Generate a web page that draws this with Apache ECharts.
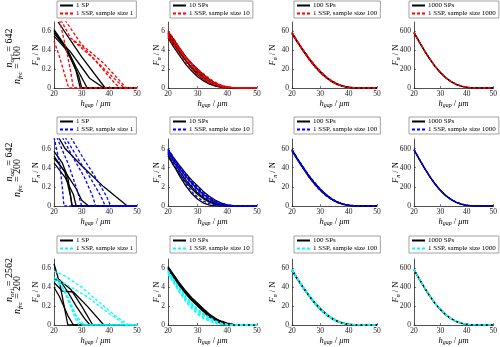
<!DOCTYPE html>
<html><head><meta charset="utf-8">
<script src="https://cdn.jsdelivr.net/npm/echarts@6/dist/echarts.min.js"></script>
<style>html,body{margin:0;padding:0;background:#fff}#c{width:500px;height:347px}</style>
</head><body><div id="c"></div>
<script>
// ---------- DATA ----------
const xs = [20,22,24,26,28,30,32,34,36,38,40,42,44,46,48,50];
const spNames = ['1 SP','10 SPs','100 SPs','1000 SPs'];
const ssNames = ['1 SSP, sample size 1','1 SSP, sample size 10','1 SSP, sample size 100','1 SSP, sample size 1000'];
const rowOri = ['642','642','2562'];
const rowFrc = ['100','200','200'];
const ssColors = ['#ff0000','#0000ff','#00ffff'];
const yMax = [0.7,7,70,700];
const yStep = [0.2,2,20,200];
const xTicks = [20,30,40,50];

// column 1 (single particle) curves, [h_gap, F_n] points
const r1c1SP = [
  [[20,0.62],[24,0.45],[28,0.18],[29.5,0],[50,0]],
  [[20,0.58],[25,0.4],[28,0.22],[32,0],[50,0]],
  [[20,0.6],[23,0.48],[26,0.38],[30,0.22],[33,0.1],[38,0],[50,0]],
  [[21.5,0.7],[30,0.33],[38.5,0],[50,0]],
  [[20,0.55],[24,0.42],[27,0.26],[29,0.12],[30,0],[50,0]]
];
const r1c1SS = [
  [[20,0.5],[22,0.33],[24,0.13],[25.3,0],[50,0]],
  [[22,0.72],[24.5,0.4],[26,0.18],[27,0],[50,0]],
  [[22.5,0.72],[26,0.53],[31,0.42],[37,0.22],[42,0.05],[44,0],[50,0]],
  [[24,0.72],[30,0.46],[38,0.26],[44,0.07],[46,0],[50,0]],
  [[27,0.5],[34,0.32],[40,0.15],[44,0.04],[45.5,0],[50,0]]
];
const r2c1SP = [
  [[21,0.75],[24,0.6],[28,0.48],[30,0.42],[38,0.2],[46.5,0],[50,0]],
  [[20,0.57],[23,0.45],[25,0.3],[26,0.1],[26.5,0],[50,0]],
  [[20,0.52],[24,0.35],[26,0.1],[26.6,0],[50,0]],
  [[20,0.5],[24,0.36],[28,0.18],[30,0.06],[32.5,0],[50,0]],
  [[20,0.45],[24,0.3],[27,0.12],[28,0],[50,0]]
];
const r2c1SS = [
  [[20,0.72],[22,0.45],[23,0.2],[23.6,0],[50,0]],
  [[21,0.72],[25,0.45],[28,0.2],[30,0],[50,0]],
  [[23,0.72],[27,0.5],[31,0.3],[34,0.1],[35,0],[50,0]],
  [[24,0.72],[29,0.48],[33,0.3],[37,0.1],[38.5,0],[50,0]],
  [[26,0.72],[31,0.48],[35,0.3],[39,0.1],[40.5,0],[50,0]]
];
const r3c1SP = [
  [[20,0.65],[22,0.45],[24,0.15],[25,0],[50,0]],
  [[20,0.48],[22,0.48],[25,0.35],[28,0.2],[31,0.07],[33,0],[50,0]],
  [[21,0.5],[26,0.38],[30,0.2],[34,0],[50,0]],
  [[20,0.45],[23,0.36],[27,0.35],[32,0.2],[38,0],[50,0]],
  [[20,0.4],[22,0.3],[25,0.1],[27,0],[50,0]]
];
const r3c1SS = [
  [[20,0.57],[24,0.52],[30,0.4],[36,0.25],[42,0.1],[47,0],[50,0]],
  [[20,0.5],[25,0.42],[32,0.3],[40,0.12],[46,0],[50,0]],
  [[20,0.48],[23,0.4],[26,0.2],[28,0.05],[29,0],[50,0]],
  [[21,0.5],[24,0.35],[27,0.15],[29,0.03],[30.5,0],[50,0]],
  [[22,0.45],[25,0.3],[28,0.1],[31,0],[50,0]]
];
// column 2 (10 SPs) curves, values at xs
const r1c2SP = [
  [6.0,5.1,4.2,3.3,2.5,1.8,1.2,0.7,0.35,0.15,0.05,0,0,0,0,0],
  [5.8,4.8,3.8,2.9,2.1,1.4,0.9,0.5,0.25,0.1,0.03,0,0,0,0,0],
  [5.5,4.6,3.7,2.9,2.2,1.6,1.1,0.7,0.4,0.2,0.08,0.02,0,0,0,0],
  [5.3,4.3,3.4,2.5,1.8,1.2,0.75,0.4,0.2,0.08,0.02,0,0,0,0,0],
  [5.7,4.9,4.1,3.3,2.6,2.0,1.4,0.9,0.5,0.22,0.08,0.02,0,0,0,0]
];
const r1c2SS = [
  [6.1,5.2,4.2,3.3,2.6,2.0,1.5,1.0,0.6,0.3,0.12,0.04,0.01,0,0,0],
  [5.9,4.9,4.0,3.1,2.3,1.6,1.05,0.65,0.35,0.15,0.05,0.01,0,0,0,0],
  [5.6,4.7,3.9,3.2,2.5,1.9,1.3,0.8,0.45,0.2,0.07,0.02,0,0,0,0],
  [5.4,4.5,3.6,2.7,2.0,1.4,0.9,0.55,0.3,0.12,0.04,0.01,0,0,0,0],
  [5.8,5.0,4.1,3.2,2.4,1.7,1.2,0.8,0.5,0.25,0.1,0.03,0,0,0,0]
];
const r2c2SP = [
  [5.9,5.0,4.2,3.4,2.7,2.1,1.5,1.0,0.6,0.3,0.12,0.03,0,0,0,0],
  [5.6,4.6,3.6,2.7,2.0,1.35,0.85,0.5,0.25,0.1,0.03,0,0,0,0,0],
  [5.4,4.2,3.1,2.1,1.3,0.7,0.3,0.1,0.02,0,0,0,0,0,0,0],
  [5.7,4.8,3.9,3.1,2.4,1.75,1.2,0.75,0.4,0.18,0.06,0.01,0,0,0,0],
  [5.2,4.2,3.3,2.5,1.8,1.2,0.75,0.4,0.18,0.07,0.02,0,0,0,0,0]
];
const r2c2SS = [
  [6.0,5.0,4.1,3.3,2.6,2.0,1.4,0.95,0.55,0.28,0.1,0.03,0,0,0,0],
  [5.9,4.9,4.0,3.2,2.5,1.9,1.35,0.9,0.5,0.25,0.09,0.02,0,0,0,0],
  [5.5,4.4,3.3,2.3,1.5,0.9,0.5,0.25,0.1,0.03,0,0,0,0,0,0],
  [5.8,4.8,3.9,3.0,2.3,1.65,1.1,0.7,0.38,0.17,0.06,0.01,0,0,0,0],
  [5.6,4.6,3.7,2.8,2.1,1.5,1.0,0.6,0.3,0.12,0.04,0,0,0,0,0]
];
const r3c2SP = [
  [6.2,5.3,4.4,3.6,2.9,2.3,1.7,1.15,0.7,0.35,0.12,0.03,0,0,0,0],
  [6.0,5.1,4.2,3.4,2.7,2.1,1.55,1.05,0.65,0.32,0.12,0.03,0,0,0,0],
  [6.1,5.2,4.3,3.5,2.8,2.2,1.6,0.9,0.45,0.15,0.04,0,0,0,0,0],
  [5.9,5.0,4.1,3.3,2.6,2.0,1.4,0.8,0.6,0.4,0.2,0.07,0.01,0,0,0],
  [6.0,5.1,4.3,3.5,2.75,2.05,1.45,0.95,0.55,0.25,0.08,0.02,0,0,0,0]
];
const r3c2SS = [
  [5.8,4.8,3.9,3.0,2.3,1.7,1.2,0.8,0.45,0.2,0.07,0.02,0,0,0,0],
  [5.6,4.6,3.7,2.8,2.1,1.5,1.0,0.6,0.3,0.12,0.04,0,0,0,0,0],
  [5.5,4.5,3.5,2.6,1.9,1.3,0.85,0.5,0.25,0.1,0.03,0,0,0,0,0],
  [5.7,4.7,3.8,2.9,2.2,1.6,1.1,0.7,0.4,0.18,0.06,0.01,0,0,0,0],
  [5.4,4.4,3.4,2.5,1.75,1.15,0.7,0.4,0.2,0.08,0.02,0,0,0,0,0]
];
// column 3 (100 SPs)
const c3SP = [
  [58,48.5,39.5,31,23.5,17,11.5,7.2,4.0,1.9,0.7,0.2,0.05,0,0,0],
  [59,49,40,31.5,24,17.5,12,7.5,4.2,2.0,0.8,0.25,0.05,0,0,0],
  [57.5,48,39,30.5,23,16.5,11,6.8,3.7,1.7,0.6,0.15,0.03,0,0,0]
];
const c3SS = [
  [59,49.5,40.5,32,24.5,17.8,12.2,7.8,4.4,2.1,0.85,0.3,0.08,0,0,0],
  [58,48,39,30,22.5,16,10.8,6.6,3.6,1.7,0.65,0.2,0.04,0,0,0],
  [58.5,49,39.8,31.2,23.6,17.2,11.7,7.3,4.1,1.9,0.75,0.22,0.05,0,0,0]
];
// column 4 (1000 SPs)
const c4SP = [
  [590,490,396,308,230,164,110,69,39,19,7.5,2.3,0.6,0.1,0,0],
  [585,486,392,304,227,161,108,67,37,18,7,2,0.5,0.1,0,0]
];
const c4SS = [
  [592,492,398,310,232,166,112,70,40,20,8,2.5,0.6,0.1,0,0],
  [587,488,394,306,228,162,109,68,38,18.5,7.2,2.2,0.5,0.1,0,0]
];

const panelSP = [[r1c1SP,r1c2SP,c3SP,c4SP],[r2c1SP,r2c2SP,c3SP,c4SP],[r3c1SP,r3c2SP,c3SP,c4SP]];
const panelSS = [[r1c1SS,r1c2SS,c3SS,c4SS],[r2c1SS,r2c2SS,c3SS,c4SS],[r3c1SS,r3c2SS,c3SS,c4SS]];

// ---------- LAYOUT ----------
const FF = 'Liberation Serif';
const colLeft = [54,168,292,414];
const colWidth = [83,89,85,81];
const rowTop = [22,139,259];
const rowHeight = [66,67,66];
const legLeft = [57,170,294,409];
const legTop = [1,117,236];
const yNameGap = [14,7,15,14];
const rowLabelX = [9,17.5];
const rowLabelY = [[48,65],[162,178],[280,295]];

function toPts(curve){
  if (Array.isArray(curve[0])) return curve;
  return curve.map((v,i)=>[xs[i],v]);
}
const subRich = (F)=>({
  i:{fontFamily:FF,fontStyle:'italic',fontSize:F,lineHeight:F,verticalAlign:'top',color:'#000'},
  r:{fontFamily:FF,fontSize:F,lineHeight:F,verticalAlign:'top',color:'#000'},
  s:{fontFamily:FF,fontStyle:'italic',fontSize:F*0.7,lineHeight:F*0.7,verticalAlign:'top',padding:[F*0.45,0,0,0],color:'#000'}
});

const grid=[], xAxis=[], yAxis=[], series=[], legend=[], graphic=[];
for (let r=0;r<3;r++){
  for (let c=0;c<4;c++){
    const g = r*4+c;
    grid.push({left:colLeft[c],top:rowTop[r],width:colWidth[c],height:rowHeight[r],containLabel:false});
    xAxis.push({type:'value',gridIndex:g,min:20,max:50,interval:10,
      axisLine:{lineStyle:{color:'#262626',width:0.8}},
      axisTick:{inside:true,length:2,lineStyle:{color:'#262626',width:0.6}},
      splitLine:{show:false},
      axisLabel:{fontFamily:FF,fontSize:7.5,color:'#222',margin:2},
      name:'{i|h}{s|gap}{r| / }{i|μm}',nameLocation:'middle',nameGap:11,nameMoveOverlap:false,
      nameTextStyle:{rich:subRich(8.5)}});
    yAxis.push({type:'value',gridIndex:g,min:0,max:yMax[c],interval:yStep[c],
      axisLine:{show:true,lineStyle:{color:'#262626',width:0.8}},
      axisTick:{show:true,inside:true,length:2,lineStyle:{color:'#262626',width:0.6}},
      splitLine:{show:false},
      axisLabel:{fontFamily:FF,fontSize:7.5,color:'#222',margin:3,showMaxLabel:false},
      name:'{i|F}{s|n}{r| / N}',nameLocation:'middle',nameGap:yNameGap[c],nameMoveOverlap:false,
      nameTextStyle:{rich:subRich(8.5)}});
    const zw='\u200b'.repeat(r);
    const nSP = spNames[c]+zw, nSS = ssNames[c]+zw;
    panelSP[r][c].forEach(cv=>series.push({type:'line',name:nSP,xAxisIndex:g,yAxisIndex:g,
      data:toPts(cv),symbol:'none',silent:true,clip:true,
      lineStyle:{color:'#000',width:1.3},itemStyle:{color:'#000'}}));
    panelSS[r][c].forEach(cv=>series.push({type:'line',name:nSS,xAxisIndex:g,yAxisIndex:g,
      data:toPts(cv),symbol:'none',silent:true,clip:true,
      lineStyle:{color:ssColors[r],width:1.3,type:[3,2]},itemStyle:{color:ssColors[r]}}));
    legend.push({data:[nSP,nSS],orient:'vertical',left:legLeft[c],top:legTop[r],
      itemWidth:13,itemHeight:7,itemGap:1,padding:[1,3,1,2],
      itemStyle:{opacity:0,borderWidth:0},
      borderColor:'#8c8c8c',borderWidth:0.8,backgroundColor:'#fff',selectedMode:false,
      textStyle:{fontFamily:FF,fontSize:7,color:'#000',padding:[0,0,0,-2]}});
  }
  const lab = [['ori',rowOri[r]],['frc',rowFrc[r]]];
  lab.forEach((l,k)=>{
    graphic.push({type:'text',x:rowLabelX[k],y:rowLabelY[r][k],rotation:Math.PI/2,
      style:{text:'{i|n}{s|'+l[0]+'}{r| = '+l[1]+'}',rich:subRich(10),align:'center',verticalAlign:'middle'}});
  });
}

const chart = echarts.init(document.getElementById('c'),null,{renderer:'canvas'});
chart.setOption({animation:false,backgroundColor:'#fff',grid,xAxis,yAxis,series,legend,graphic});
</script></body></html>
